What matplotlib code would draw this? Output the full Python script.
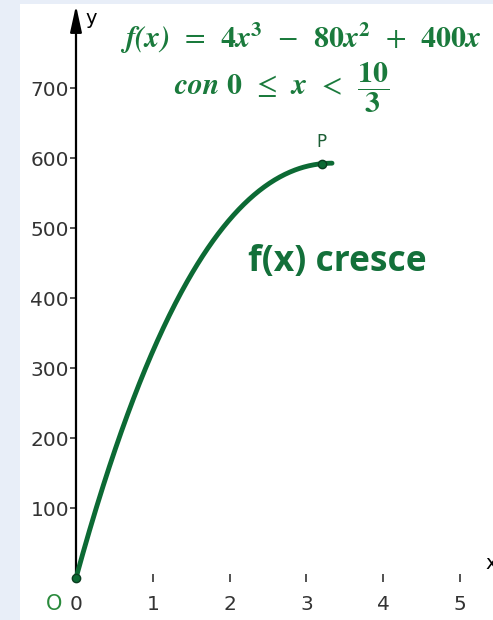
import numpy as np
import matplotlib
matplotlib.use("Agg")
import matplotlib.pyplot as plt
from matplotlib.patches import Rectangle

plt.rcParams['mathtext.fontset'] = 'stix'

# function shown in the chart: f(x) = 4x^3 - 80x^2 + 400x, 0 <= x < 10/3
coeffs = [4, -80, 400, 0]
x_start, x_end = 0, 10/3
p_x = 3.2

x_ticks = [0, 1, 2, 3, 4, 5]
y_ticks = [100, 200, 300, 400, 500, 600, 700]

green = '#0c6a34'
text_green = '#1a7a3c'
bg = '#e8eef8'

fig = plt.figure(figsize=(4.93, 6.2), dpi=100)
fig.patch.set_facecolor(bg)
# white panel
fig.patches.append(Rectangle((20/493, 0), 1, 1 - 4/620, transform=fig.transFigure,
                             facecolor='white', edgecolor='none', zorder=-10))

ax = fig.add_axes([0, 0, 1, 1])
ax.set_facecolor('none')
ax.set_xlim(-76/76.8, (493-76)/76.8)
ax.set_ylim(-42/0.7, 578/0.7)

for s in ['top', 'right']:
    ax.spines[s].set_visible(False)
ax.spines['left'].set_position(('data', 0))
ax.spines['bottom'].set_position(('data', 0))
ax.spines['left'].set_visible(False)
ax.spines['bottom'].set_visible(False)

# axes with arrows
ax.annotate('', xy=(0, 818), xytext=(0, 0),
            arrowprops=dict(arrowstyle='-|>,head_length=1.6,head_width=0.35', color='black', lw=1.6,
                            shrinkA=0, shrinkB=0))
ax.annotate('', xy=(5.47, 0), xytext=(0, 0),
            arrowprops=dict(arrowstyle='-|>,head_length=1.6,head_width=0.35', color='black', lw=1.6,
                            shrinkA=0, shrinkB=0))

ax.set_xticks(x_ticks)
ax.set_xticklabels([str(t) for t in x_ticks])
ax.set_yticks(y_ticks)
ax.set_yticklabels([str(t) for t in y_ticks])
ax.tick_params(axis='x', direction='inout', length=6, width=1.2, colors='#333333', labelsize=14.5, pad=9)
ax.tick_params(axis='y', direction='out', length=4, width=1.2, colors='#333333', labelsize=14.5, pad=1)
for lab in ax.get_xticklabels():
    lab.set_horizontalalignment('center')

xs = np.linspace(x_start, x_end, 300)
ax.plot(xs, np.polyval(coeffs, xs), color=green, lw=3.5, solid_capstyle='round', zorder=3)
ax.plot([0, p_x], [0, np.polyval(coeffs, p_x)], 'o', color=green, ms=6,
        markeredgecolor='#0a3d20', zorder=4)

ax.text(p_x, np.polyval(coeffs, p_x) + 18, 'P', color='#1c5e35', fontsize=12, ha='center', va='bottom')
ax.text(-0.29, -37, 'O', color='#2a8a3c', fontsize=15, ha='center', va='center')
ax.text(0.12, 800, 'y', color='black', fontsize=14, ha='left', va='center')
ax.text(5.33, 21, 'x', color='black', fontsize=14, ha='left', va='center')

ax.text(2.93, 771, r'$\mathbfit{f(x)}\enspace=\enspace\mathbf{4}\mathbfit{x}^{\mathbf{3}}\enspace-\enspace'
                   r'\mathbf{80}\mathbfit{x}^{\mathbf{2}}\enspace+\enspace\mathbf{400}\mathbfit{x}$',
        color=text_green, fontsize=21.5, ha='center', va='center')
ax.text(2.68, 699, r'$\mathbfit{con}\ \mathbf{0}\enspace\leq\enspace\mathbfit{x}\enspace<\enspace'
                   r'\dfrac{\mathbf{10}}{\mathbf{3}}$',
        color=text_green, fontsize=21.5, ha='center', va='center')
ax.text(3.4, 451, 'f(x) cresce', color='#13703a', fontsize=25.5, fontweight='bold',
        family='Open Sans', ha='center', va='center')

fig.savefig('out.png', dpi=100, facecolor=bg)
